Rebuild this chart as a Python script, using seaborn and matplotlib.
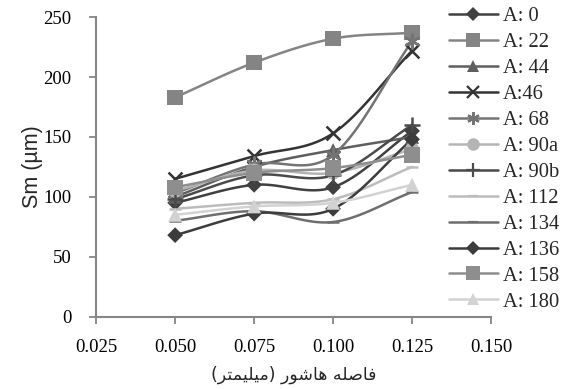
import numpy as np
import pandas as pd
import matplotlib
matplotlib.use("Agg")
import matplotlib.pyplot as plt
from matplotlib.lines import Line2D
import seaborn as sns

# ---------------- data ----------------
x_vals = [0.050, 0.075, 0.100, 0.125]
series_names = ["A: 0", "A: 22", "A: 44", "A:46", "A: 68", "A: 90a", "A: 90b",
                "A: 112", "A: 134", "A: 136", "A: 158", "A: 180"]
a0   = [95, 110, 108, 155]
a22  = [183, 212, 232, 237]
a44  = [100, 125, 139, 150]
a46  = [115, 134, 153, 222]
a68  = [103, 127, 135, 230]
a90a = [105, 122, 120, 140]
a90b = [98, 118, 118, 160]
a112 = [90, 95, 98, 125]
a134 = [80, 88, 79, 104]
a136 = [68, 86, 90, 148]
a158 = [108, 120, 124, 135]
a180 = [85, 92, 95, 110]
values = [a0, a22, a44, a46, a68, a90a, a90b, a112, a134, a136, a158, a180]
x_ticks = [0.025, 0.050, 0.075, 0.100, 0.125, 0.150]
y_ticks = [0, 50, 100, 150, 200, 250]

# ---------------- styles ----------------
colors = ["#404040", "#848484", "#5e5e5e", "#333333", "#747474", "#b4b4b4",
          "#4a4a4a", "#bcbcbc", "#6e6e6e", "#3c3c3c", "#8e8e8e", "#d2d2d2"]
markers = ["D", "s", "^", "x", (6, 2, 0), "o", "+", "_", "_", "D", "s", "^"]
msizes = [8, 11, 10, 10, 10, 10, 11, 8, 8, 8, 11, 10]
line_markers = {"x", "+", "_"}

sns.set_theme(style="white")
plt.rcParams["font.family"] = ["Liberation Serif", "DejaVu Sans"]


def catmull_rom(xs, ys, n=30):
    xs = np.asarray(xs, float); ys = np.asarray(ys, float)
    P = np.column_stack([xs, ys])
    P = np.vstack([P[0] - (P[1] - P[0]), P, P[-1] + (P[-1] - P[-2])])
    out = []
    for i in range(1, len(P) - 2):
        p0, p1, p2, p3 = P[i - 1], P[i], P[i + 1], P[i + 2]
        t = np.linspace(0, 1, n)[:, None]
        seg = 0.5 * ((2 * p1) + (-p0 + p2) * t + (2 * p0 - 5 * p1 + 4 * p2 - p3) * t ** 2
                     + (-p0 + 3 * p1 - 3 * p2 + p3) * t ** 3)
        out.append(seg)
    seg = np.vstack(out)
    return seg[:, 0], seg[:, 1]


def shape_fa(text):
    # minimal Persian shaping: (isolated, final, initial, medial); None => right-joining only
    forms = {
        "ف": ("\uFED1", "\uFED2", "\uFED3", "\uFED4"),
        "ا": ("\uFE8D", "\uFE8E", None, None),
        "ص": ("\uFEB9", "\uFEBA", "\uFEBB", "\uFEBC"),
        "ل": ("\uFEDD", "\uFEDE", "\uFEDF", "\uFEE0"),
        "ه": ("\uFEE9", "\uFEEA", "\uFEEB", "\uFEEC"),
        "ش": ("\uFEB5", "\uFEB6", "\uFEB7", "\uFEB8"),
        "و": ("\uFEED", "\uFEEE", None, None),
        "ر": ("\uFEAD", "\uFEAE", None, None),
        "م": ("\uFEE1", "\uFEE2", "\uFEE3", "\uFEE4"),
        "ی": ("\uFEEF", "\uFEF0", "\uFEF3", "\uFEF4"),
        "ت": ("\uFE95", "\uFE96", "\uFE97", "\uFE98"),
    }
    chars = [c for c in text if c != "\u200c"]
    res = []
    for i, c in enumerate(chars):
        if c not in forms:
            res.append(c)
            continue
        prev = chars[i - 1] if i > 0 else None
        nxt = chars[i + 1] if i + 1 < len(chars) else None
        joins_prev = prev in forms and forms[prev][2] is not None
        joins_next = nxt in forms and forms[c][2] is not None
        iso, fin, ini, med = forms[c]
        if joins_prev and joins_next:
            res.append(med)
        elif joins_prev:
            res.append(fin)
        elif joins_next:
            res.append(ini)
        else:
            res.append(iso)
    mirror = {"(": ")", ")": "("}
    return "".join(mirror.get(c, c) for c in reversed(res))


fig = plt.figure(figsize=(5.69, 3.89), dpi=100)
ax = fig.add_axes([0.169, 0.186, 0.694, 0.770])

rows = []
for name, vals in zip(series_names, values):
    for xv, yv in zip(x_vals, vals):
        rows.append({"x": xv, "y": yv, "series": name})
df = pd.DataFrame(rows)

handles = []
for name, col, mk, ms in zip(series_names, colors, markers, msizes):
    sub = df[df["series"] == name]
    sx, sy = catmull_rom(sub["x"].values, sub["y"].values)
    ax.plot(sx, sy, color=col, lw=1.8, zorder=2)
    is_line = (mk in line_markers) or isinstance(mk, tuple)
    lw_m = 1.8 if is_line else 0
    sns.scatterplot(data=sub, x="x", y="y", marker=mk, color=col, s=ms ** 2,
                    edgecolor=col if lw_m else "none", linewidth=lw_m, ax=ax,
                    zorder=3, legend=False)
    handles.append(Line2D([0], [0], color=col, lw=1.8, marker=mk, markersize=ms * 0.9,
                          markeredgewidth=1.6 if lw_m else 0,
                          markeredgecolor=col, markerfacecolor=col))

ax.set_xlim(0.025, 0.150)
ax.set_ylim(0, 250)
ax.set_xticks(x_ticks)
ax.set_xticklabels([f"{v:.3f}" for v in x_ticks])
ax.set_yticks(y_ticks)
ax.set_yticklabels([str(v) for v in y_ticks])
for s in ["top", "right"]:
    ax.spines[s].set_visible(False)
for s in ["left", "bottom"]:
    ax.spines[s].set_color("#868686")
    ax.spines[s].set_linewidth(1.5)
ax.tick_params(axis="both", which="both", direction="out", length=5, width=1.3,
               color="#868686", labelsize=13.5, labelcolor="black", pad=11,
               bottom=True, left=True)
ax.tick_params(axis="y", pad=13)
ax.grid(False)

ax.set_ylabel("Sm (µm)", fontsize=15.5, family=["Liberation Sans", "DejaVu Sans"], labelpad=0)
ax.set_xlabel(shape_fa("فاصله هاشور (میلی\u200cمتر)"), fontsize=12.5,
              family=["DejaVu Sans"], labelpad=7)

leg = ax.legend(handles, series_names, loc="upper left", bbox_to_anchor=(0.893, 1.035),
                frameon=False, fontsize=14.8, handlelength=2.4, handletextpad=0.25,
                labelspacing=0.32, borderaxespad=0, borderpad=0)

fig.savefig("out.png", dpi=100)
